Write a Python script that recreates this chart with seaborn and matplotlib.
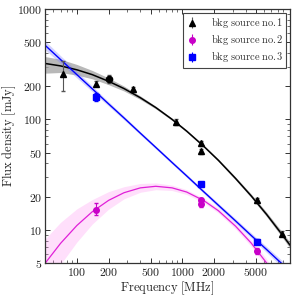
import numpy as np
import matplotlib
matplotlib.use('Agg')
import matplotlib.pyplot as plt
import seaborn as sns
from matplotlib.ticker import LogLocator, NullFormatter

# --- data ---
# model curves sampled at these frequencies [MHz]
fit_freq = [50, 70, 100, 140, 200, 280, 400, 560, 800, 1100, 1600, 2200, 3200, 4500, 6300, 9000, 10500]

fit1 = [320.6, 304.8, 281, 254, 221, 190, 157, 128, 100, 78.3, 57, 42.6, 29.2, 20.3, 13.8, 8.87, 7.28]
fit1_hi = [370, 350, 314, 277, 237, 200, 163, 131.6, 102.3, 80.1, 58.3, 43.7, 30.1, 21.1, 14.45, 9.39, 7.76]
fit1_lo = [262, 265.5, 251.6, 233, 206, 180.6, 151.3, 124.5, 97.7, 76.5, 55.7, 41.5, 28.3, 19.6, 13.2, 8.38, 6.83]

fit2 = [4.99, 7.55, 10.96, 14.6, 18.5, 21.7, 24.0, 24.8, 24.0, 22.0, 18.4, 14.9, 10.8, 7.6, 5.02, 3.02, 2.38]
fit2_hi = [8.28, 11.7, 15.5, 18.8, 22.2, 24.6, 26.3, 26.6, 25.4, 23.1, 19.3, 15.7, 11.5, 8.15, 5.44, 3.31, 2.64]
fit2_lo = [3.0, 4.87, 7.76, 11.3, 15.4, 19.1, 21.9, 23.1, 22.7, 20.9, 17.6, 14.2, 10.2, 7.09, 4.63, 2.76, 2.15]

fit3 = [468, 348, 254, 189, 138, 103, 75, 55.8, 40.7, 30.8, 22.1, 16.7, 12.05, 8.9, 6.64, 4.84, 4.24]
fit3_hi = [513, 377, 272, 200, 144.5, 107.1, 77.6, 57.6, 42.0, 31.9, 22.9, 17.4, 12.6, 9.38, 7.05, 5.19, 4.56]
fit3_lo = [427, 321, 237, 178.5, 131.8, 99, 72.5, 54, 39.4, 29.8, 21.3, 16.0, 11.5, 8.44, 6.25, 4.51, 3.94]

# measured fluxes
src1_freq = [74, 152, 340, 869, 1517, 1517, 5140, 8850]
src1_flux = [256, 211, 189, 94.5, 61, 51.5, 18.6, 9.25]
src1_err_lo = [76, 10, 8, 6, 3, 2.5, 1.0, 0.5]
src1_err_hi = [81, 10, 8, 6, 3, 2.5, 1.0, 0.5]

src1b_freq = [203]
src1b_flux = [234]
src1b_err = [20]

src2_freq = [152, 1517, 1517, 5140]
src2_flux = [15.1, 18.7, 17.1, 6.5]
src2_err_lo = [1.5, 0.9, 0.9, 0.4]
src2_err_hi = [2.5, 0.9, 0.9, 0.4]

src3_freq = [152, 1517, 5140]
src3_flux = [160, 26, 7.8]
src3_err = [12, 1.3, 0.4]

labels = [r'$\mathrm{bkg\ source\ no.\!1}$', r'$\mathrm{bkg\ source\ no.\!2}$', r'$\mathrm{bkg\ source\ no.\!3}$']
xticks = [100, 200, 500, 1000, 2000, 5000]
yticks = [5, 10, 20, 50, 100, 200, 500, 1000]

sns.set_style('ticks')
plt.rcParams['mathtext.fontset'] = 'cm'
plt.rcParams['font.family'] = ['DejaVu Serif']

c_mag = '#c800c8'
c_mag_line = '#e020d8'

fig = plt.figure(figsize=(2.95, 2.96), dpi=100)
ax = fig.add_axes([0.153, 0.111, 0.830, 0.859])
ax.set_xscale('log')
ax.set_yscale('log')

# uncertainty bands
ax.fill_between(fit_freq, fit1_lo, fit1_hi, color='#a0a0a0', alpha=0.75, lw=0, zorder=1)
ax.fill_between(fit_freq, fit3_lo, fit3_hi, color='#8080ff', alpha=0.35, lw=0, zorder=1)
ax.fill_between(fit_freq, fit2_lo, fit2_hi, color='#ff80f0', alpha=0.25, lw=0, zorder=1)

# model curves
sns.lineplot(x=fit_freq, y=fit1, color='k', lw=1.1, ax=ax, zorder=2)
sns.lineplot(x=fit_freq, y=fit3, color='#0000ff', lw=1.0, ax=ax, zorder=2)
sns.lineplot(x=fit_freq, y=fit2, color=c_mag_line, lw=0.9, ax=ax, zorder=2)

# data points
ax.errorbar(src1_freq, src1_flux, yerr=[src1_err_lo, src1_err_hi], fmt='^', color='k',
            ms=5, ecolor='#555555', elinewidth=0.8, capsize=1.5, zorder=4)
ax.errorbar(src1b_freq, src1b_flux, yerr=src1b_err, fmt='o', color='k',
            ms=4.5, ecolor='#555555', elinewidth=0.8, capsize=1.5, zorder=4)
ax.errorbar(src2_freq, src2_flux, yerr=[src2_err_lo, src2_err_hi], fmt='o', color=c_mag,
            ms=4, ecolor=c_mag, elinewidth=0.8, capsize=1.5, zorder=4)
ax.errorbar(src3_freq, src3_flux, yerr=src3_err, fmt='s', color='#0000ff',
            ms=4.2, ecolor='#0000ff', elinewidth=0.8, capsize=1.5, zorder=4)

ax.set_xlim(50, 10500)
ax.set_ylim(5, 1000)

ax.set_xticks(xticks, [r'$\mathrm{%d}$' % t for t in xticks])
ax.set_yticks(yticks, [r'$\mathrm{%d}$' % t for t in yticks])
ax.xaxis.set_minor_locator(LogLocator(base=10, subs=np.arange(2, 10)))
ax.yaxis.set_minor_locator(LogLocator(base=10, subs=np.arange(2, 10)))
ax.xaxis.set_minor_formatter(NullFormatter())
ax.yaxis.set_minor_formatter(NullFormatter())
ax.tick_params(which='both', direction='in', top=True, right=True, colors='#333333',
               labelcolor='#222222', labelsize=8.5, pad=2)
ax.tick_params(which='major', length=3.5, width=0.7)
ax.tick_params(which='minor', length=2, width=0.5)
for s in ax.spines.values():
    s.set_color('#333333')
    s.set_linewidth(0.9)

ax.set_xlabel(r'$\mathrm{Frequency\ [MHz]}$', fontsize=9, color='#222222', va='center')
ax.set_ylabel(r'$\mathrm{Flux\ density\ [mJy]}$', fontsize=9, color='#222222', va='center')
ax.xaxis.set_label_coords(0.5, -0.097)
ax.yaxis.set_label_coords(-0.148, 0.5)

handles = [
    ax.errorbar([], [], yerr=[], fmt='^', color='k', ms=5, ecolor='#555555', elinewidth=0.8, capsize=1.5),
    ax.errorbar([], [], yerr=[], fmt='o', color=c_mag, ms=4, ecolor=c_mag, elinewidth=0.8, capsize=1.5),
    ax.errorbar([], [], yerr=[], fmt='s', color='#0000ff', ms=4.2, ecolor='#0000ff', elinewidth=0.8, capsize=1.5),
]
leg = ax.legend(handles, labels,
                loc='upper right', fontsize=7.5, frameon=True, fancybox=False, framealpha=1,
                edgecolor='#444444', handlelength=1.0, handletextpad=1.3, borderpad=0.35,
                labelspacing=0.3, borderaxespad=0.35)
leg.get_frame().set_linewidth(0.8)
for t in leg.get_texts():
    t.set_color('#333333')

fig.savefig('out.png', dpi=100)
